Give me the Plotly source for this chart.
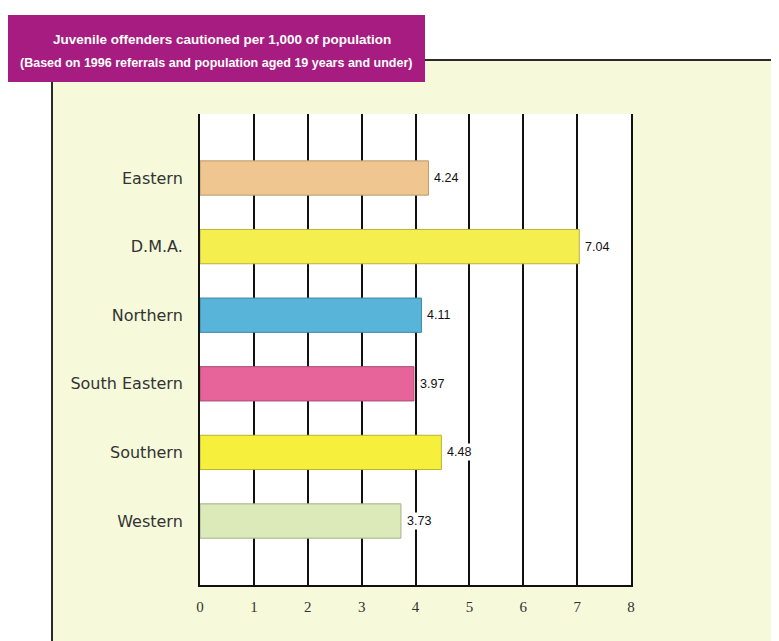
import plotly.graph_objects as go

regions = ["Eastern", "D.M.A.", "Northern", "South Eastern", "Southern", "Western"]
rates = [4.24, 7.04, 4.11, 3.97, 4.48, 3.73]
bar_colors = ["#efc68f", "#f4ee4f", "#58b5d9", "#e7649b", "#f6ef3b", "#dce9b9"]
edge_colors = ["#b99a6c", "#b8b23a", "#3f86a3", "#a94a72", "#bab330", "#a6b08a"]
x_ticks = [0, 1, 2, 3, 4, 5, 6, 7, 8]
title_1 = "Juvenile offenders cautioned per 1,000 of population"
title_2 = "(Based on 1996 referrals and population aged 19 years and under)"

# page body has an 8px margin; work in reference-window pixels
OFF = 8
W, H = 779 - OFF, 641 - OFF
L, R, T, B = 200 - OFF, 148, 114 - OFF, 56
pw, ph = W - L - R, H - T - B


def px_x(p):
    return (p - OFF - L) / pw


def px_y(p):
    return (H - B - (p - OFF)) / ph


fig = go.Figure()
fig.add_trace(go.Bar(
    y=regions, x=rates, orientation="h", width=0.5,
    marker=dict(color=bar_colors, line=dict(color=edge_colors, width=1)),
    hoverinfo="skip",
))

annotations = []
for r, v in zip(regions, rates):
    annotations.append(dict(
        x=v, y=r, xref="x", yref="y", text=f"{v:.2f}", showarrow=False,
        xanchor="left", xshift=4, bgcolor="white", borderpad=1,
        font=dict(family="Liberation Sans, Arial", size=12.5, color="#111"),
    ))
annotations.append(dict(
    x=px_x(222), y=px_y(39), xref="paper", yref="paper", text=f"<b>{title_1}</b>",
    showarrow=False, xanchor="center", yanchor="middle",
    font=dict(family="Liberation Sans Narrow, Liberation Sans, Arial", size=13.5, color="white"),
))
annotations.append(dict(
    x=px_x(216), y=px_y(63), xref="paper", yref="paper", text=f"<b>{title_2}</b>",
    showarrow=False, xanchor="center", yanchor="middle",
    font=dict(family="Liberation Sans Narrow, Liberation Sans, Arial", size=12.5, color="white"),
))

shapes = [
    # outer panel
    dict(type="rect", xref="paper", yref="paper", layer="below",
         x0=px_x(52), x1=px_x(776), y0=px_y(700), y1=px_y(60),
         fillcolor="#f6fadb", line=dict(color="#2a2a2a", width=2)),
    # white plot area
    dict(type="rect", xref="paper", yref="paper", layer="below",
         x0=0, x1=1, y0=0, y1=1, fillcolor="white", line=dict(width=0)),
    # title banner
    dict(type="rect", xref="paper", yref="paper", layer="above",
         x0=px_x(8), x1=px_x(425), y0=px_y(82), y1=px_y(15),
         fillcolor="#a61c80", line=dict(width=0)),
]

fig.update_layout(
    width=W, height=H,
    margin=dict(l=L, r=R, t=T, b=B, pad=0),
    paper_bgcolor="white", plot_bgcolor="white",
    showlegend=False,
    bargap=0.5,
    annotations=annotations,
    shapes=shapes,
    xaxis=dict(
        range=[0, 8], tickvals=x_ticks, ticktext=[str(t) for t in x_ticks],
        showgrid=True, gridcolor="#111", gridwidth=2,
        showline=True, linecolor="#111", linewidth=2,
        zeroline=False, ticks="", ticklabelstandoff=7,
        tickfont=dict(family="Liberation Serif, Times New Roman", size=15, color="#333"),
        fixedrange=True,
    ),
    yaxis=dict(
        type="category", range=[5.933, -0.933],
        showgrid=False, showline=True, mirror=True, linecolor="#111", linewidth=2,
        zeroline=False, ticks="", ticklabelstandoff=12,
        tickfont=dict(family="DejaVu Sans", size=16, color="#333"),
        fixedrange=True,
    ),
)

fig.write_html("out.html")
